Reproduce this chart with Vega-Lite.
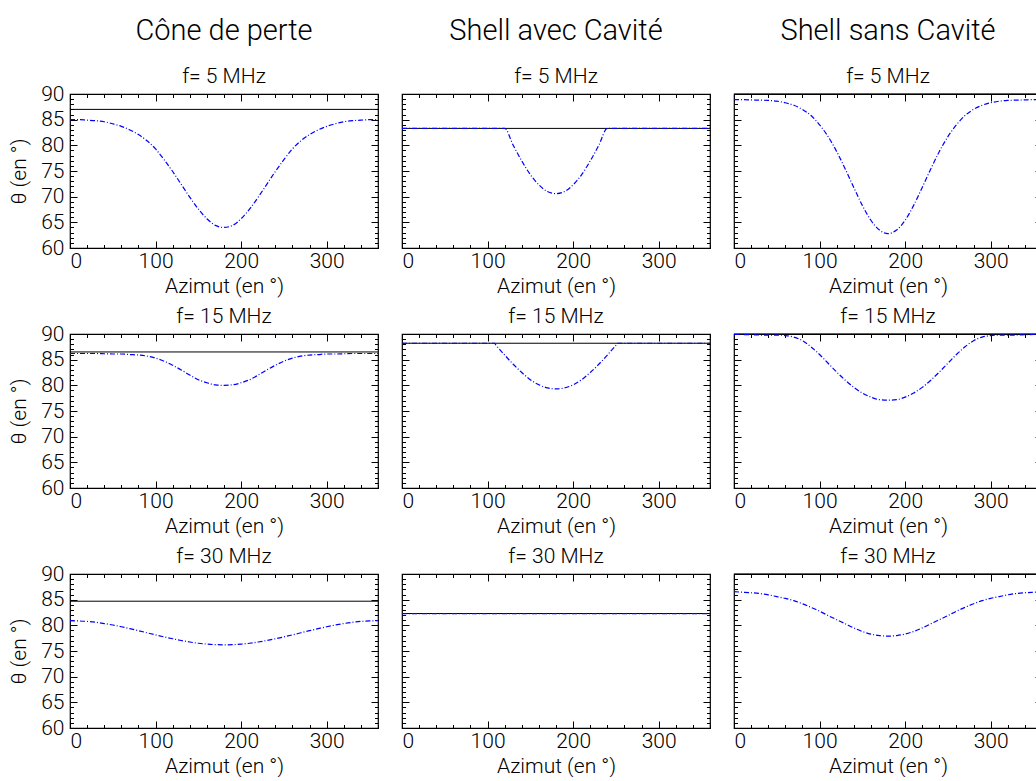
{
"$schema":"https://vega.github.io/schema/vega-lite/v6.json",
"padding":{"left":8,"top":15,"right":0,"bottom":0},
"config":{"font":"Roboto","view":{"stroke":"black","strokeWidth":1.2},
"axis":{"labelFontSize":21,"titleFontSize":21,"labelColor":"black","titleColor":"black","tickColor":"black","tickWidth":1,"labelFontWeight":300,"titleFontWeight":300,"labelFont":"Roboto","titleFont":"Roboto","domain":false,"grid":false},
"title":{"font":"Roboto","subtitleFont":"Roboto","fontSize":21,"fontWeight":300,"subtitleFontWeight":300,"color":"black","subtitleColor":"black","subtitleFontSize":21,"offset":7}},
"datasets":{"d":[
{"p":1,"s":"l","x":0,"y":87},{"p":1,"s":"l","x":360,"y":87},
{"p":1,"s":"c","x":0,"y":85.0},{"p":1,"s":"c","x":10,"y":85.0},{"p":1,"s":"c","x":20,"y":84.9},{"p":1,"s":"c","x":30,"y":84.8},{"p":1,"s":"c","x":40,"y":84.6},{"p":1,"s":"c","x":50,"y":84.2},{"p":1,"s":"c","x":60,"y":83.7},{"p":1,"s":"c","x":70,"y":83.0},{"p":1,"s":"c","x":80,"y":82.1},{"p":1,"s":"c","x":90,"y":80.9},{"p":1,"s":"c","x":100,"y":79.3},{"p":1,"s":"c","x":110,"y":77.2},{"p":1,"s":"c","x":120,"y":74.9},{"p":1,"s":"c","x":130,"y":72.4},{"p":1,"s":"c","x":140,"y":69.9},{"p":1,"s":"c","x":150,"y":67.6},{"p":1,"s":"c","x":160,"y":65.7},{"p":1,"s":"c","x":170,"y":64.4},{"p":1,"s":"c","x":180,"y":64.0},{"p":1,"s":"c","x":190,"y":64.4},{"p":1,"s":"c","x":200,"y":65.7},{"p":1,"s":"c","x":210,"y":67.6},{"p":1,"s":"c","x":220,"y":69.9},{"p":1,"s":"c","x":230,"y":72.4},{"p":1,"s":"c","x":240,"y":74.9},{"p":1,"s":"c","x":250,"y":77.2},{"p":1,"s":"c","x":260,"y":79.3},{"p":1,"s":"c","x":270,"y":80.9},{"p":1,"s":"c","x":280,"y":82.1},{"p":1,"s":"c","x":290,"y":83.0},{"p":1,"s":"c","x":300,"y":83.7},{"p":1,"s":"c","x":310,"y":84.2},{"p":1,"s":"c","x":320,"y":84.6},{"p":1,"s":"c","x":330,"y":84.8},{"p":1,"s":"c","x":340,"y":84.9},{"p":1,"s":"c","x":350,"y":85.0},{"p":1,"s":"c","x":360,"y":85.0},
{"p":2,"s":"l","x":0,"y":83.3},{"p":2,"s":"l","x":360,"y":83.3},
{"p":2,"s":"c","x":0,"y":83.3},{"p":2,"s":"c","x":60,"y":83.3},{"p":2,"s":"c","x":120,"y":83.3},{"p":2,"s":"c","x":130,"y":80.0},{"p":2,"s":"c","x":140,"y":76.95},{"p":2,"s":"c","x":150,"y":74.3},{"p":2,"s":"c","x":160,"y":72.3},{"p":2,"s":"c","x":170,"y":71.0},{"p":2,"s":"c","x":180,"y":70.6},{"p":2,"s":"c","x":190,"y":71.0},{"p":2,"s":"c","x":200,"y":72.3},{"p":2,"s":"c","x":210,"y":74.3},{"p":2,"s":"c","x":220,"y":76.95},{"p":2,"s":"c","x":230,"y":80.0},{"p":2,"s":"c","x":240,"y":83.3},{"p":2,"s":"c","x":300,"y":83.3},{"p":2,"s":"c","x":360,"y":83.3},
{"p":3,"s":"l","x":0,"y":90},{"p":3,"s":"l","x":360,"y":90},
{"p":3,"s":"c","x":0,"y":88.9},{"p":3,"s":"c","x":10,"y":88.9},{"p":3,"s":"c","x":20,"y":88.85},{"p":3,"s":"c","x":30,"y":88.8},{"p":3,"s":"c","x":40,"y":88.75},{"p":3,"s":"c","x":50,"y":88.6},{"p":3,"s":"c","x":60,"y":88.3},{"p":3,"s":"c","x":70,"y":87.8},{"p":3,"s":"c","x":80,"y":87.0},{"p":3,"s":"c","x":90,"y":85.8},{"p":3,"s":"c","x":100,"y":84.0},{"p":3,"s":"c","x":110,"y":81.7},{"p":3,"s":"c","x":120,"y":78.8},{"p":3,"s":"c","x":130,"y":75.4},{"p":3,"s":"c","x":140,"y":71.8},{"p":3,"s":"c","x":150,"y":68.3},{"p":3,"s":"c","x":160,"y":65.4},{"p":3,"s":"c","x":170,"y":63.5},{"p":3,"s":"c","x":180,"y":62.8},{"p":3,"s":"c","x":190,"y":63.5},{"p":3,"s":"c","x":200,"y":65.4},{"p":3,"s":"c","x":210,"y":68.3},{"p":3,"s":"c","x":220,"y":71.8},{"p":3,"s":"c","x":230,"y":75.4},{"p":3,"s":"c","x":240,"y":78.8},{"p":3,"s":"c","x":250,"y":81.7},{"p":3,"s":"c","x":260,"y":84.0},{"p":3,"s":"c","x":270,"y":85.8},{"p":3,"s":"c","x":280,"y":87.0},{"p":3,"s":"c","x":290,"y":87.8},{"p":3,"s":"c","x":300,"y":88.3},{"p":3,"s":"c","x":310,"y":88.6},{"p":3,"s":"c","x":320,"y":88.75},{"p":3,"s":"c","x":330,"y":88.8},{"p":3,"s":"c","x":340,"y":88.85},{"p":3,"s":"c","x":350,"y":88.9},{"p":3,"s":"c","x":360,"y":88.9},
{"p":4,"s":"l","x":0,"y":86.5},{"p":4,"s":"l","x":360,"y":86.5},
{"p":4,"s":"c","x":0,"y":86.2},{"p":4,"s":"c","x":10,"y":86.2},{"p":4,"s":"c","x":20,"y":86.2},{"p":4,"s":"c","x":30,"y":86.2},{"p":4,"s":"c","x":40,"y":86.15},{"p":4,"s":"c","x":50,"y":86.1},{"p":4,"s":"c","x":60,"y":86.1},{"p":4,"s":"c","x":70,"y":86.0},{"p":4,"s":"c","x":80,"y":85.9},{"p":4,"s":"c","x":90,"y":85.7},{"p":4,"s":"c","x":100,"y":85.3},{"p":4,"s":"c","x":110,"y":84.7},{"p":4,"s":"c","x":120,"y":83.9},{"p":4,"s":"c","x":130,"y":83.0},{"p":4,"s":"c","x":140,"y":82.0},{"p":4,"s":"c","x":150,"y":81.1},{"p":4,"s":"c","x":160,"y":80.5},{"p":4,"s":"c","x":170,"y":80.1},{"p":4,"s":"c","x":180,"y":80.0},{"p":4,"s":"c","x":190,"y":80.1},{"p":4,"s":"c","x":200,"y":80.5},{"p":4,"s":"c","x":210,"y":81.1},{"p":4,"s":"c","x":220,"y":82.0},{"p":4,"s":"c","x":230,"y":83.0},{"p":4,"s":"c","x":240,"y":83.9},{"p":4,"s":"c","x":250,"y":84.7},{"p":4,"s":"c","x":260,"y":85.3},{"p":4,"s":"c","x":270,"y":85.7},{"p":4,"s":"c","x":280,"y":85.9},{"p":4,"s":"c","x":290,"y":86.0},{"p":4,"s":"c","x":300,"y":86.1},{"p":4,"s":"c","x":310,"y":86.1},{"p":4,"s":"c","x":320,"y":86.15},{"p":4,"s":"c","x":330,"y":86.2},{"p":4,"s":"c","x":340,"y":86.2},{"p":4,"s":"c","x":350,"y":86.2},{"p":4,"s":"c","x":360,"y":86.2},
{"p":5,"s":"l","x":0,"y":88.2},{"p":5,"s":"l","x":360,"y":88.2},
{"p":5,"s":"c","x":0,"y":88.2},{"p":5,"s":"c","x":60,"y":88.2},{"p":5,"s":"c","x":108,"y":88.2},{"p":5,"s":"c","x":110,"y":87.8},{"p":5,"s":"c","x":120,"y":85.9},{"p":5,"s":"c","x":130,"y":84.1},{"p":5,"s":"c","x":140,"y":82.5},{"p":5,"s":"c","x":150,"y":81.1},{"p":5,"s":"c","x":160,"y":80.1},{"p":5,"s":"c","x":170,"y":79.5},{"p":5,"s":"c","x":180,"y":79.3},{"p":5,"s":"c","x":190,"y":79.5},{"p":5,"s":"c","x":200,"y":80.1},{"p":5,"s":"c","x":210,"y":81.1},{"p":5,"s":"c","x":220,"y":82.5},{"p":5,"s":"c","x":230,"y":84.1},{"p":5,"s":"c","x":240,"y":85.9},{"p":5,"s":"c","x":250,"y":87.8},{"p":5,"s":"c","x":252,"y":88.2},{"p":5,"s":"c","x":300,"y":88.2},{"p":5,"s":"c","x":360,"y":88.2},
{"p":6,"s":"l","x":0,"y":90},{"p":6,"s":"l","x":360,"y":90},
{"p":6,"s":"c","x":0,"y":89.9},{"p":6,"s":"c","x":10,"y":89.9},{"p":6,"s":"c","x":20,"y":89.85},{"p":6,"s":"c","x":30,"y":89.8},{"p":6,"s":"c","x":40,"y":89.8},{"p":6,"s":"c","x":50,"y":89.8},{"p":6,"s":"c","x":60,"y":89.7},{"p":6,"s":"c","x":70,"y":89.4},{"p":6,"s":"c","x":80,"y":88.7},{"p":6,"s":"c","x":90,"y":87.5},{"p":6,"s":"c","x":100,"y":86.0},{"p":6,"s":"c","x":110,"y":84.3},{"p":6,"s":"c","x":120,"y":82.6},{"p":6,"s":"c","x":130,"y":81.0},{"p":6,"s":"c","x":140,"y":79.6},{"p":6,"s":"c","x":150,"y":78.5},{"p":6,"s":"c","x":160,"y":77.7},{"p":6,"s":"c","x":170,"y":77.2},{"p":6,"s":"c","x":180,"y":77.1},{"p":6,"s":"c","x":190,"y":77.2},{"p":6,"s":"c","x":200,"y":77.7},{"p":6,"s":"c","x":210,"y":78.5},{"p":6,"s":"c","x":220,"y":79.6},{"p":6,"s":"c","x":230,"y":81.0},{"p":6,"s":"c","x":240,"y":82.6},{"p":6,"s":"c","x":250,"y":84.3},{"p":6,"s":"c","x":260,"y":86.0},{"p":6,"s":"c","x":270,"y":87.5},{"p":6,"s":"c","x":280,"y":88.7},{"p":6,"s":"c","x":290,"y":89.4},{"p":6,"s":"c","x":300,"y":89.7},{"p":6,"s":"c","x":310,"y":89.8},{"p":6,"s":"c","x":320,"y":89.8},{"p":6,"s":"c","x":330,"y":89.8},{"p":6,"s":"c","x":340,"y":89.85},{"p":6,"s":"c","x":350,"y":89.9},{"p":6,"s":"c","x":360,"y":89.9},
{"p":7,"s":"l","x":0,"y":84.7},{"p":7,"s":"l","x":360,"y":84.7},
{"p":7,"s":"c","x":0,"y":80.9},{"p":7,"s":"c","x":10,"y":80.86},{"p":7,"s":"c","x":20,"y":80.76},{"p":7,"s":"c","x":30,"y":80.59},{"p":7,"s":"c","x":40,"y":80.35},{"p":7,"s":"c","x":50,"y":80.06},{"p":7,"s":"c","x":60,"y":79.73},{"p":7,"s":"c","x":70,"y":79.35},{"p":7,"s":"c","x":80,"y":78.96},{"p":7,"s":"c","x":90,"y":78.55},{"p":7,"s":"c","x":100,"y":78.14},{"p":7,"s":"c","x":110,"y":77.75},{"p":7,"s":"c","x":120,"y":77.38},{"p":7,"s":"c","x":130,"y":77.04},{"p":7,"s":"c","x":140,"y":76.75},{"p":7,"s":"c","x":150,"y":76.51},{"p":7,"s":"c","x":160,"y":76.34},{"p":7,"s":"c","x":170,"y":76.24},{"p":7,"s":"c","x":180,"y":76.2},{"p":7,"s":"c","x":190,"y":76.24},{"p":7,"s":"c","x":200,"y":76.34},{"p":7,"s":"c","x":210,"y":76.51},{"p":7,"s":"c","x":220,"y":76.75},{"p":7,"s":"c","x":230,"y":77.04},{"p":7,"s":"c","x":240,"y":77.38},{"p":7,"s":"c","x":250,"y":77.75},{"p":7,"s":"c","x":260,"y":78.14},{"p":7,"s":"c","x":270,"y":78.55},{"p":7,"s":"c","x":280,"y":78.96},{"p":7,"s":"c","x":290,"y":79.35},{"p":7,"s":"c","x":300,"y":79.73},{"p":7,"s":"c","x":310,"y":80.06},{"p":7,"s":"c","x":320,"y":80.35},{"p":7,"s":"c","x":330,"y":80.59},{"p":7,"s":"c","x":340,"y":80.76},{"p":7,"s":"c","x":350,"y":80.86},{"p":7,"s":"c","x":360,"y":80.9},
{"p":8,"s":"l","x":0,"y":82.3},{"p":8,"s":"l","x":360,"y":82.3},
{"p":8,"s":"c","x":0,"y":82.3},{"p":8,"s":"c","x":60,"y":82.3},{"p":8,"s":"c","x":120,"y":82.3},{"p":8,"s":"c","x":180,"y":82.3},{"p":8,"s":"c","x":240,"y":82.3},{"p":8,"s":"c","x":300,"y":82.3},{"p":8,"s":"c","x":360,"y":82.3},
{"p":9,"s":"l","x":0,"y":90},{"p":9,"s":"l","x":360,"y":90},
{"p":9,"s":"c","x":0,"y":86.55},{"p":9,"s":"c","x":10,"y":86.45},{"p":9,"s":"c","x":20,"y":86.35},{"p":9,"s":"c","x":30,"y":86.2},{"p":9,"s":"c","x":40,"y":85.95},{"p":9,"s":"c","x":50,"y":85.6},{"p":9,"s":"c","x":60,"y":85.25},{"p":9,"s":"c","x":70,"y":84.8},{"p":9,"s":"c","x":80,"y":84.2},{"p":9,"s":"c","x":90,"y":83.5},{"p":9,"s":"c","x":100,"y":82.75},{"p":9,"s":"c","x":110,"y":81.9},{"p":9,"s":"c","x":120,"y":81.1},{"p":9,"s":"c","x":130,"y":80.3},{"p":9,"s":"c","x":140,"y":79.5},{"p":9,"s":"c","x":150,"y":78.8},{"p":9,"s":"c","x":160,"y":78.3},{"p":9,"s":"c","x":170,"y":78.0},{"p":9,"s":"c","x":180,"y":77.9},{"p":9,"s":"c","x":190,"y":78.0},{"p":9,"s":"c","x":200,"y":78.3},{"p":9,"s":"c","x":210,"y":78.8},{"p":9,"s":"c","x":220,"y":79.5},{"p":9,"s":"c","x":230,"y":80.3},{"p":9,"s":"c","x":240,"y":81.1},{"p":9,"s":"c","x":250,"y":81.9},{"p":9,"s":"c","x":260,"y":82.75},{"p":9,"s":"c","x":270,"y":83.5},{"p":9,"s":"c","x":280,"y":84.2},{"p":9,"s":"c","x":290,"y":84.8},{"p":9,"s":"c","x":300,"y":85.25},{"p":9,"s":"c","x":310,"y":85.6},{"p":9,"s":"c","x":320,"y":85.95},{"p":9,"s":"c","x":330,"y":86.2},{"p":9,"s":"c","x":340,"y":86.35},{"p":9,"s":"c","x":350,"y":86.45},{"p":9,"s":"c","x":360,"y":86.55}
]},
"spacing":7,
"vconcat":[
{"spacing":18,"hconcat":[
{"width":308,"height":154,"title":{"text":"Cône de perte","subtitle":"f= 5 MHz","fontSize":29,"subtitleFontSize":21,"subtitlePadding":20,"offset":-3.5,"frame":"group"},"data":{"name":"d"},"transform":[{"filter":"datum.p==1"}],
"layer":[
{"transform":[{"filter":"datum.s=='l'"}],"mark":{"type":"line","color":"black","strokeWidth":1},
"encoding":{"x":{"field":"x","type":"quantitative","scale":{"domain":[0,360],"nice":false,"zero":false},"axis":{"orient":"bottom","values":[0,20,40,60,80,100,120,140,160,180,200,220,240,260,280,300,320,340,360],"labelExpr":"datum.value % 100 == 0 ? datum.label : ''","tickSize":{"condition":{"test":"datum.value % 100 == 0","value":-7},"value":-3.5},"labelPadding":9,"title":"Azimut (en °)","titlePadding":4}},
"y":{"field":"y","type":"quantitative","scale":{"domain":[60,90],"nice":false,"zero":false},"axis":{"orient":"left","values":[60,61,62,63,64,65,66,67,68,69,70,71,72,73,74,75,76,77,78,79,80,81,82,83,84,85,86,87,88,89,90],"labelExpr":"datum.value % 5 == 0 ? datum.label : ''","tickSize":{"condition":{"test":"datum.value % 5 == 0","value":-7},"value":-3.5},"labelPadding":13,"title":"θ (en °)","titlePadding":11}}}},
{"transform":[{"filter":"datum.s=='c'"}],"mark":{"type":"line","color":"blue","strokeWidth":1.2,"strokeDash":[5,2,1,2],"interpolate":"monotone"},
"encoding":{"x":{"field":"x","type":"quantitative","axis":{"orient":"top","values":[0,20,40,60,80,100,120,140,160,180,200,220,240,260,280,300,320,340,360],"labels":false,"tickSize":{"condition":{"test":"datum.value % 100 == 0","value":-7},"value":-3.5},"title":null}},
"y":{"field":"y","type":"quantitative","axis":{"orient":"right","values":[60,61,62,63,64,65,66,67,68,69,70,71,72,73,74,75,76,77,78,79,80,81,82,83,84,85,86,87,88,89,90],"labels":false,"tickSize":{"condition":{"test":"datum.value % 5 == 0","value":-7},"value":-3.5},"title":null}}}}
],"resolve":{"axis":{"x":"independent","y":"independent"}}},
{"width":308,"height":154,"title":{"text":"Shell avec Cavité","subtitle":"f= 5 MHz","fontSize":29,"subtitleFontSize":21,"subtitlePadding":20,"offset":7,"frame":"group"},"data":{"name":"d"},"transform":[{"filter":"datum.p==2"}],
"layer":[
{"transform":[{"filter":"datum.s=='l'"}],"mark":{"type":"line","color":"black","strokeWidth":1},
"encoding":{"x":{"field":"x","type":"quantitative","scale":{"domain":[0,360],"nice":false,"zero":false},"axis":{"orient":"bottom","values":[0,20,40,60,80,100,120,140,160,180,200,220,240,260,280,300,320,340,360],"labelExpr":"datum.value % 100 == 0 ? datum.label : ''","tickSize":{"condition":{"test":"datum.value % 100 == 0","value":-7},"value":-3.5},"labelPadding":9,"title":"Azimut (en °)","titlePadding":4}},
"y":{"field":"y","type":"quantitative","scale":{"domain":[60,90],"nice":false,"zero":false},"axis":{"orient":"left","values":[60,61,62,63,64,65,66,67,68,69,70,71,72,73,74,75,76,77,78,79,80,81,82,83,84,85,86,87,88,89,90],"labels":false,"tickSize":{"condition":{"test":"datum.value % 5 == 0","value":-7},"value":-3.5},"title":null}}}},
{"transform":[{"filter":"datum.s=='c'"}],"mark":{"type":"line","color":"blue","strokeWidth":1.2,"strokeDash":[5,2,1,2],"interpolate":"monotone"},
"encoding":{"x":{"field":"x","type":"quantitative","axis":{"orient":"top","values":[0,20,40,60,80,100,120,140,160,180,200,220,240,260,280,300,320,340,360],"labels":false,"tickSize":{"condition":{"test":"datum.value % 100 == 0","value":-7},"value":-3.5},"title":null}},
"y":{"field":"y","type":"quantitative","axis":{"orient":"right","values":[60,61,62,63,64,65,66,67,68,69,70,71,72,73,74,75,76,77,78,79,80,81,82,83,84,85,86,87,88,89,90],"labels":false,"tickSize":{"condition":{"test":"datum.value % 5 == 0","value":-7},"value":-3.5},"title":null}}}}
],"resolve":{"axis":{"x":"independent","y":"independent"}}},
{"width":308,"height":154,"title":{"text":"Shell sans Cavité","subtitle":"f= 5 MHz","fontSize":29,"subtitleFontSize":21,"subtitlePadding":20,"offset":5,"frame":"group"},"data":{"name":"d"},"transform":[{"filter":"datum.p==3"}],
"layer":[
{"transform":[{"filter":"datum.s=='l'"}],"mark":{"type":"line","color":"black","strokeWidth":1.2},
"encoding":{"x":{"field":"x","type":"quantitative","scale":{"domain":[0,360],"nice":false,"zero":false},"axis":{"orient":"bottom","values":[0,20,40,60,80,100,120,140,160,180,200,220,240,260,280,300,320,340,360],"labelExpr":"datum.value % 100 == 0 ? datum.label : ''","tickSize":{"condition":{"test":"datum.value % 100 == 0","value":-7},"value":-3.5},"labelPadding":9,"title":"Azimut (en °)","titlePadding":4}},
"y":{"field":"y","type":"quantitative","scale":{"domain":[60,90],"nice":false,"zero":false},"axis":{"orient":"left","values":[60,61,62,63,64,65,66,67,68,69,70,71,72,73,74,75,76,77,78,79,80,81,82,83,84,85,86,87,88,89,90],"labels":false,"tickSize":{"condition":{"test":"datum.value % 5 == 0","value":-7},"value":-3.5},"title":null}}}},
{"transform":[{"filter":"datum.s=='c'"}],"mark":{"type":"line","color":"blue","strokeWidth":1.2,"strokeDash":[5,2,1,2],"interpolate":"monotone"},
"encoding":{"x":{"field":"x","type":"quantitative","axis":{"orient":"top","values":[0,20,40,60,80,100,120,140,160,180,200,220,240,260,280,300,320,340,360],"labels":false,"tickSize":{"condition":{"test":"datum.value % 100 == 0","value":-7},"value":-3.5},"title":null}},
"y":{"field":"y","type":"quantitative","axis":{"orient":"right","values":[60,61,62,63,64,65,66,67,68,69,70,71,72,73,74,75,76,77,78,79,80,81,82,83,84,85,86,87,88,89,90],"labels":false,"tickSize":{"condition":{"test":"datum.value % 5 == 0","value":-7},"value":-3.5},"title":null}}}}
],"resolve":{"axis":{"x":"independent","y":"independent"}}}
]},
{"spacing":18,"hconcat":[
{"width":308,"height":154,"title":{"text":"f= 15 MHz","offset":-3.5,"frame":"group"},"data":{"name":"d"},"transform":[{"filter":"datum.p==4"}],
"layer":[
{"transform":[{"filter":"datum.s=='l'"}],"mark":{"type":"line","color":"black","strokeWidth":1},
"encoding":{"x":{"field":"x","type":"quantitative","scale":{"domain":[0,360],"nice":false,"zero":false},"axis":{"orient":"bottom","values":[0,20,40,60,80,100,120,140,160,180,200,220,240,260,280,300,320,340,360],"labelExpr":"datum.value % 100 == 0 ? datum.label : ''","tickSize":{"condition":{"test":"datum.value % 100 == 0","value":-7},"value":-3.5},"labelPadding":9,"title":"Azimut (en °)","titlePadding":4}},
"y":{"field":"y","type":"quantitative","scale":{"domain":[60,90],"nice":false,"zero":false},"axis":{"orient":"left","values":[60,61,62,63,64,65,66,67,68,69,70,71,72,73,74,75,76,77,78,79,80,81,82,83,84,85,86,87,88,89,90],"labelExpr":"datum.value % 5 == 0 ? datum.label : ''","tickSize":{"condition":{"test":"datum.value % 5 == 0","value":-7},"value":-3.5},"labelPadding":13,"title":"θ (en °)","titlePadding":11}}}},
{"transform":[{"filter":"datum.s=='c'"}],"mark":{"type":"line","color":"blue","strokeWidth":1.2,"strokeDash":[5,2,1,2],"interpolate":"monotone"},
"encoding":{"x":{"field":"x","type":"quantitative","axis":{"orient":"top","values":[0,20,40,60,80,100,120,140,160,180,200,220,240,260,280,300,320,340,360],"labels":false,"tickSize":{"condition":{"test":"datum.value % 100 == 0","value":-7},"value":-3.5},"title":null}},
"y":{"field":"y","type":"quantitative","axis":{"orient":"right","values":[60,61,62,63,64,65,66,67,68,69,70,71,72,73,74,75,76,77,78,79,80,81,82,83,84,85,86,87,88,89,90],"labels":false,"tickSize":{"condition":{"test":"datum.value % 5 == 0","value":-7},"value":-3.5},"title":null}}}}
],"resolve":{"axis":{"x":"independent","y":"independent"}}},
{"width":308,"height":154,"title":{"text":"f= 15 MHz","offset":7,"frame":"group"},"data":{"name":"d"},"transform":[{"filter":"datum.p==5"}],
"layer":[
{"transform":[{"filter":"datum.s=='l'"}],"mark":{"type":"line","color":"black","strokeWidth":1},
"encoding":{"x":{"field":"x","type":"quantitative","scale":{"domain":[0,360],"nice":false,"zero":false},"axis":{"orient":"bottom","values":[0,20,40,60,80,100,120,140,160,180,200,220,240,260,280,300,320,340,360],"labelExpr":"datum.value % 100 == 0 ? datum.label : ''","tickSize":{"condition":{"test":"datum.value % 100 == 0","value":-7},"value":-3.5},"labelPadding":9,"title":"Azimut (en °)","titlePadding":4}},
"y":{"field":"y","type":"quantitative","scale":{"domain":[60,90],"nice":false,"zero":false},"axis":{"orient":"left","values":[60,61,62,63,64,65,66,67,68,69,70,71,72,73,74,75,76,77,78,79,80,81,82,83,84,85,86,87,88,89,90],"labels":false,"tickSize":{"condition":{"test":"datum.value % 5 == 0","value":-7},"value":-3.5},"title":null}}}},
{"transform":[{"filter":"datum.s=='c'"}],"mark":{"type":"line","color":"blue","strokeWidth":1.2,"strokeDash":[5,2,1,2],"interpolate":"monotone"},
"encoding":{"x":{"field":"x","type":"quantitative","axis":{"orient":"top","values":[0,20,40,60,80,100,120,140,160,180,200,220,240,260,280,300,320,340,360],"labels":false,"tickSize":{"condition":{"test":"datum.value % 100 == 0","value":-7},"value":-3.5},"title":null}},
"y":{"field":"y","type":"quantitative","axis":{"orient":"right","values":[60,61,62,63,64,65,66,67,68,69,70,71,72,73,74,75,76,77,78,79,80,81,82,83,84,85,86,87,88,89,90],"labels":false,"tickSize":{"condition":{"test":"datum.value % 5 == 0","value":-7},"value":-3.5},"title":null}}}}
],"resolve":{"axis":{"x":"independent","y":"independent"}}},
{"width":308,"height":154,"title":{"text":"f= 15 MHz","offset":5,"frame":"group"},"data":{"name":"d"},"transform":[{"filter":"datum.p==6"}],
"layer":[
{"transform":[{"filter":"datum.s=='l'"}],"mark":{"type":"line","color":"black","strokeWidth":1.2},
"encoding":{"x":{"field":"x","type":"quantitative","scale":{"domain":[0,360],"nice":false,"zero":false},"axis":{"orient":"bottom","values":[0,20,40,60,80,100,120,140,160,180,200,220,240,260,280,300,320,340,360],"labelExpr":"datum.value % 100 == 0 ? datum.label : ''","tickSize":{"condition":{"test":"datum.value % 100 == 0","value":-7},"value":-3.5},"labelPadding":9,"title":"Azimut (en °)","titlePadding":4}},
"y":{"field":"y","type":"quantitative","scale":{"domain":[60,90],"nice":false,"zero":false},"axis":{"orient":"left","values":[60,61,62,63,64,65,66,67,68,69,70,71,72,73,74,75,76,77,78,79,80,81,82,83,84,85,86,87,88,89,90],"labels":false,"tickSize":{"condition":{"test":"datum.value % 5 == 0","value":-7},"value":-3.5},"title":null}}}},
{"transform":[{"filter":"datum.s=='c'"}],"mark":{"type":"line","color":"blue","strokeWidth":1.2,"strokeDash":[5,2,1,2],"interpolate":"monotone"},
"encoding":{"x":{"field":"x","type":"quantitative","axis":{"orient":"top","values":[0,20,40,60,80,100,120,140,160,180,200,220,240,260,280,300,320,340,360],"labels":false,"tickSize":{"condition":{"test":"datum.value % 100 == 0","value":-7},"value":-3.5},"title":null}},
"y":{"field":"y","type":"quantitative","axis":{"orient":"right","values":[60,61,62,63,64,65,66,67,68,69,70,71,72,73,74,75,76,77,78,79,80,81,82,83,84,85,86,87,88,89,90],"labels":false,"tickSize":{"condition":{"test":"datum.value % 5 == 0","value":-7},"value":-3.5},"title":null}}}}
],"resolve":{"axis":{"x":"independent","y":"independent"}}}
]},
{"spacing":18,"hconcat":[
{"width":308,"height":154,"title":{"text":"f= 30 MHz","offset":-3.5,"frame":"group"},"data":{"name":"d"},"transform":[{"filter":"datum.p==7"}],
"layer":[
{"transform":[{"filter":"datum.s=='l'"}],"mark":{"type":"line","color":"black","strokeWidth":1},
"encoding":{"x":{"field":"x","type":"quantitative","scale":{"domain":[0,360],"nice":false,"zero":false},"axis":{"orient":"bottom","values":[0,20,40,60,80,100,120,140,160,180,200,220,240,260,280,300,320,340,360],"labelExpr":"datum.value % 100 == 0 ? datum.label : ''","tickSize":{"condition":{"test":"datum.value % 100 == 0","value":-7},"value":-3.5},"labelPadding":9,"title":"Azimut (en °)","titlePadding":4}},
"y":{"field":"y","type":"quantitative","scale":{"domain":[60,90],"nice":false,"zero":false},"axis":{"orient":"left","values":[60,61,62,63,64,65,66,67,68,69,70,71,72,73,74,75,76,77,78,79,80,81,82,83,84,85,86,87,88,89,90],"labelExpr":"datum.value % 5 == 0 ? datum.label : ''","tickSize":{"condition":{"test":"datum.value % 5 == 0","value":-7},"value":-3.5},"labelPadding":13,"title":"θ (en °)","titlePadding":11}}}},
{"transform":[{"filter":"datum.s=='c'"}],"mark":{"type":"line","color":"blue","strokeWidth":1.2,"strokeDash":[5,2,1,2],"interpolate":"monotone"},
"encoding":{"x":{"field":"x","type":"quantitative","axis":{"orient":"top","values":[0,20,40,60,80,100,120,140,160,180,200,220,240,260,280,300,320,340,360],"labels":false,"tickSize":{"condition":{"test":"datum.value % 100 == 0","value":-7},"value":-3.5},"title":null}},
"y":{"field":"y","type":"quantitative","axis":{"orient":"right","values":[60,61,62,63,64,65,66,67,68,69,70,71,72,73,74,75,76,77,78,79,80,81,82,83,84,85,86,87,88,89,90],"labels":false,"tickSize":{"condition":{"test":"datum.value % 5 == 0","value":-7},"value":-3.5},"title":null}}}}
],"resolve":{"axis":{"x":"independent","y":"independent"}}},
{"width":308,"height":154,"title":{"text":"f= 30 MHz","offset":7,"frame":"group"},"data":{"name":"d"},"transform":[{"filter":"datum.p==8"}],
"layer":[
{"transform":[{"filter":"datum.s=='l'"}],"mark":{"type":"line","color":"black","strokeWidth":1},
"encoding":{"x":{"field":"x","type":"quantitative","scale":{"domain":[0,360],"nice":false,"zero":false},"axis":{"orient":"bottom","values":[0,20,40,60,80,100,120,140,160,180,200,220,240,260,280,300,320,340,360],"labelExpr":"datum.value % 100 == 0 ? datum.label : ''","tickSize":{"condition":{"test":"datum.value % 100 == 0","value":-7},"value":-3.5},"labelPadding":9,"title":"Azimut (en °)","titlePadding":4}},
"y":{"field":"y","type":"quantitative","scale":{"domain":[60,90],"nice":false,"zero":false},"axis":{"orient":"left","values":[60,61,62,63,64,65,66,67,68,69,70,71,72,73,74,75,76,77,78,79,80,81,82,83,84,85,86,87,88,89,90],"labels":false,"tickSize":{"condition":{"test":"datum.value % 5 == 0","value":-7},"value":-3.5},"title":null}}}},
{"transform":[{"filter":"datum.s=='c'"}],"mark":{"type":"line","color":"blue","strokeWidth":1.2,"strokeDash":[5,2,1,2],"interpolate":"linear"},
"encoding":{"x":{"field":"x","type":"quantitative","axis":{"orient":"top","values":[0,20,40,60,80,100,120,140,160,180,200,220,240,260,280,300,320,340,360],"labels":false,"tickSize":{"condition":{"test":"datum.value % 100 == 0","value":-7},"value":-3.5},"title":null}},
"y":{"field":"y","type":"quantitative","axis":{"orient":"right","values":[60,61,62,63,64,65,66,67,68,69,70,71,72,73,74,75,76,77,78,79,80,81,82,83,84,85,86,87,88,89,90],"labels":false,"tickSize":{"condition":{"test":"datum.value % 5 == 0","value":-7},"value":-3.5},"title":null}}}}
],"resolve":{"axis":{"x":"independent","y":"independent"}}},
{"width":308,"height":154,"title":{"text":"f= 30 MHz","offset":5,"frame":"group"},"data":{"name":"d"},"transform":[{"filter":"datum.p==9"}],
"layer":[
{"transform":[{"filter":"datum.s=='l'"}],"mark":{"type":"line","color":"black","strokeWidth":1.2},
"encoding":{"x":{"field":"x","type":"quantitative","scale":{"domain":[0,360],"nice":false,"zero":false},"axis":{"orient":"bottom","values":[0,20,40,60,80,100,120,140,160,180,200,220,240,260,280,300,320,340,360],"labelExpr":"datum.value % 100 == 0 ? datum.label : ''","tickSize":{"condition":{"test":"datum.value % 100 == 0","value":-7},"value":-3.5},"labelPadding":9,"title":"Azimut (en °)","titlePadding":4}},
"y":{"field":"y","type":"quantitative","scale":{"domain":[60,90],"nice":false,"zero":false},"axis":{"orient":"left","values":[60,61,62,63,64,65,66,67,68,69,70,71,72,73,74,75,76,77,78,79,80,81,82,83,84,85,86,87,88,89,90],"labels":false,"tickSize":{"condition":{"test":"datum.value % 5 == 0","value":-7},"value":-3.5},"title":null}}}},
{"transform":[{"filter":"datum.s=='c'"}],"mark":{"type":"line","color":"blue","strokeWidth":1.2,"strokeDash":[5,2,1,2],"interpolate":"monotone"},
"encoding":{"x":{"field":"x","type":"quantitative","axis":{"orient":"top","values":[0,20,40,60,80,100,120,140,160,180,200,220,240,260,280,300,320,340,360],"labels":false,"tickSize":{"condition":{"test":"datum.value % 100 == 0","value":-7},"value":-3.5},"title":null}},
"y":{"field":"y","type":"quantitative","axis":{"orient":"right","values":[60,61,62,63,64,65,66,67,68,69,70,71,72,73,74,75,76,77,78,79,80,81,82,83,84,85,86,87,88,89,90],"labels":false,"tickSize":{"condition":{"test":"datum.value % 5 == 0","value":-7},"value":-3.5},"title":null}}}}
],"resolve":{"axis":{"x":"independent","y":"independent"}}}
]}
]
}
